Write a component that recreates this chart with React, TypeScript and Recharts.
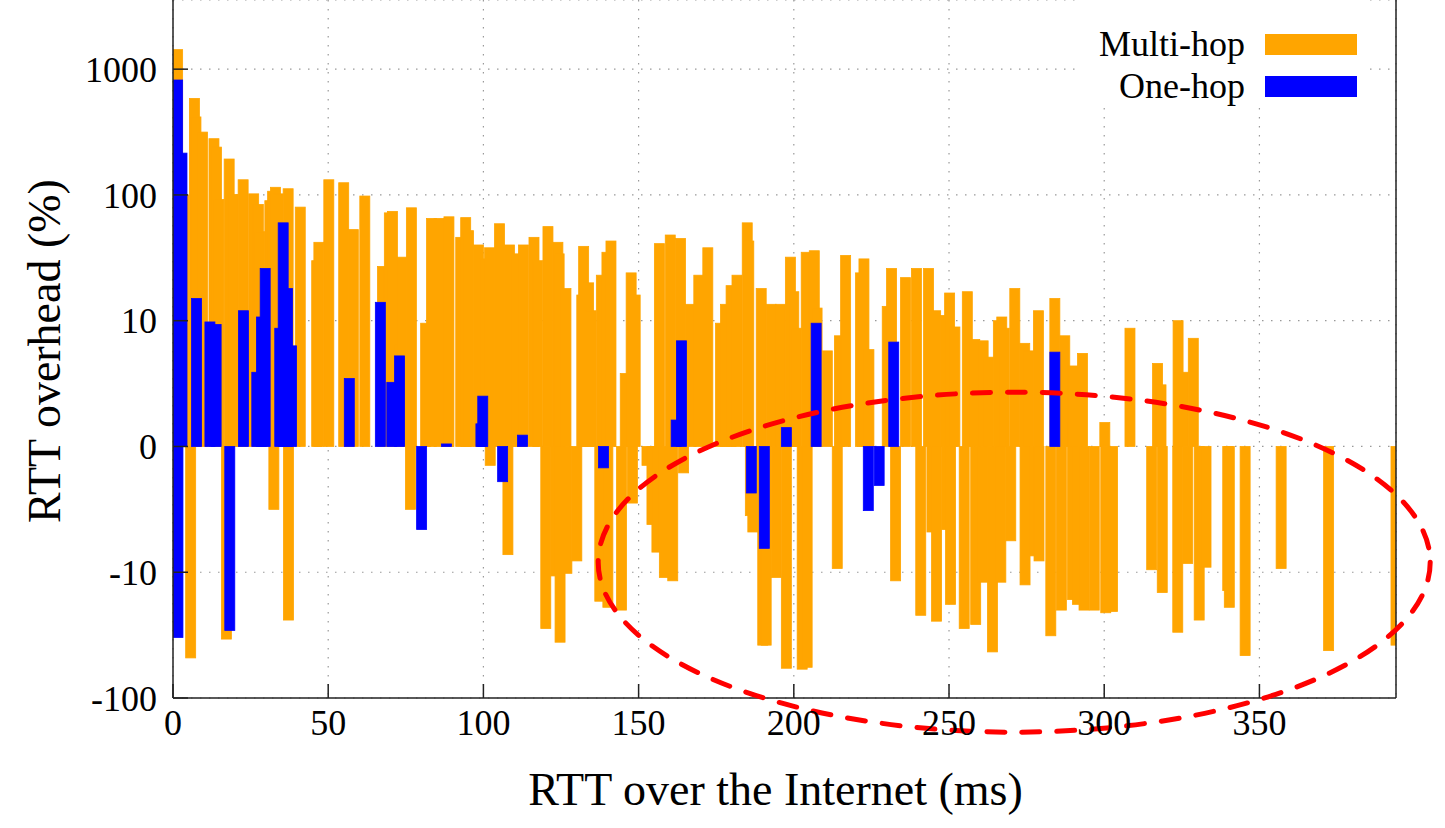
import React from 'react';
import { BarChart, Bar, XAxis, YAxis, CartesianGrid, Legend, ReferenceDot, Label } from 'recharts';

const FONT = '"Liberation Serif", "Times New Roman", serif';
const ORANGE = '#ffa500';
const BLUE = '#0000ff';
const BAR_W = 10;

// multi-hop: RTT over the Internet (ms) and RTT overhead (%)
const multiHopRtt = [
  1.5, 3.5, 5.7, 6.9, 7.4, 9.5, 13.2, 14.0, 14.8, 17.2, 18.1, 19.4, 22.6, 26.0, 27.5, 28.0, 31.2, 32.1, 32.5, 33.0,
  33.9, 37.1, 37.2, 41.0, 46.3, 47.0, 50.2, 55.0, 58.1, 61.8, 67.5, 69.7, 70.7, 72.8, 73.7, 76.5, 76.8, 81.4, 83.3, 85.7,
  88.9, 92.7, 94.3, 95.2, 98.4, 100.4, 102.0, 102.2, 105.2, 107.9, 108.4, 110.5, 112.9, 116.3, 117.5, 120.1, 120.8, 123.3, 124.0, 124.4,
  124.7, 126.6, 126.9, 130.1, 131.7, 132.3, 133.9, 134.7, 137.5, 138.0, 139.8, 140.1, 141.1, 144.5, 145.7, 147.6, 148.0, 148.9, 152.7, 154.3,
  155.9, 156.7, 158.3, 160.2, 161.0, 163.5, 164.5, 166.7, 169.4, 172.3, 176.4, 178.0, 179.8, 181.7, 185.0, 185.5, 186.0, 186.8, 189.5, 190.0,
  191.1, 192.7, 194.3, 195.7, 197.6, 198.9, 200.0, 200.8, 202.7, 204.0, 204.3, 206.6, 207.5, 210.8, 214.0, 214.7, 216.7, 221.5, 222.6, 224.2,
  230.1, 231.5, 232.8, 236.0, 239.5, 240.9, 243.4, 244.5, 245.2, 245.7, 246.0, 248.9, 249.3, 250.2, 250.5, 251.9, 254.9, 255.9, 258.3, 258.6,
  260.8, 261.0, 262.7, 264.0, 265.9, 266.7, 267.0, 267.8, 269.9, 271.2, 274.4, 274.5, 275.6, 277.7, 278.8, 279.0, 282.8, 284.1, 286.2, 287.3,
  289.5, 289.8, 290.0, 291.4, 293.0, 293.5, 296.8, 300.2, 300.5, 302.7, 308.3, 315.3, 317.2, 318.3, 318.7, 323.7, 323.8, 325.5, 326.9, 328.7,
  330.6, 332.8, 339.8, 340.3, 345.4, 357.0, 372.3, 394.0,
];
const multiHopOverhead = [
  1430, 100, -48, 585, 417, 316, 280, 240, 92, -34, 193, 101, 132, 102, 84, 51, 90, 107, -5, 115,
  102, 112, -24, 80, 30, 42, 132, 125, 53, 98, 27, 72, 74, 8.1, 32, -5, 79, 9.8, 65, 65,
  67, 46, 66, 52, 40, 31, 38, -1.5, 59, -8.6, 40, 34, 40, 46, 30, -28, 56, -10.7, 42, 34,
  -36, 18, -10.2, -9.1, 16, 39, 20, 12, -17, 23, 35, -19, 43, -20, 5.8, 24, -4.5, 16, -1.5, -6.2,
  -8.4, 41, -11, 48, -11.7, 45, -2.1, 13.5, 23, 38, 9.8, 13.5, 19, 23, 60, 43, -5.5, -6.8, 18, -38,
  -38, 13.5, -11, 13.5, -58, 32, 17, 9.4, -59, 35, -57, 36, 12.6, 7.6, -9.7, 8.8, 33, 24, 31, 7.7,
  13, 26, -11.7, 22, 26, -22, 26, -6.8, 4.8, 12, -24.5, 11, -6.6, 16.6, -18, 9.5, -28, 17, 8.5, -26,
  -12, 8.4, 7.1, -43, 10, -12, 10.7, 9.4, -7.5, 18, 8.2, -12.6, 7.6, -8.7, 12, -9.1, -32, 15, -20, 8.8,
  1.9, -16.5, 6.4, -18, 7.4, -20, -20, 1.9, -21, -20.5, 9.4, -9.8, 6.6, 4.9, -14.5, -30, 10, 5.9, -9.3, 8.6,
  -24, -9.6, -14, -19, -46, -9.7, -42, -38,
];

// one-hop
const oneHopRtt = [
  1.5, 1.6, 2.9, 7.6, 11.9, 13.9, 18.3, 22.7, 27.0, 28.5, 29.7, 34.4, 35.5, 36.9, 38.2, 56.8, 66.8, 70.5, 73.0, 80.1,
  88.1, 99.2, 99.8, 106.2, 112.6, 138.7, 162.1, 163.8, 186.3, 190.5, 197.6, 207.2, 224.0, 227.5, 232.2, 284.1,
];
const oneHopOverhead = [
  820, -33, 215, 15, 9.9, 9.7, -29, 12, 5.9, 10.7, 26, 9.4, 60, 18, 8, 5.4, 14, 5.1, 7.2, -6.6,
  0.2, 1.8, 4.0, -2.8, 0.9, -1.7, 2.1, 8.4, -3.7, -8.1, 1.5, 9.8, -5.1, -3.1, 8.3, 7.5,
];

const rttTicks = [0, 50, 100, 150, 200, 250, 300, 350];
const rttDomain = [0, 394];
const overheadTicks = [-100, -10, 0, 10, 100, 1000];
const overheadRange = [-100, 3548];
const highlight = { rtt: 271, overhead: -9.2 };

// linear between -10 and 10, log10 outside
const toAxis = (v: number) => (Math.abs(v) <= 10 ? v / 10 : Math.sign(v) * Math.log10(Math.abs(v)));
const yTicks = overheadTicks.map(toAxis);
const yDomain = overheadRange.map(toAxis);

const rows = [
  ...multiHopRtt.map((rtt, i) => ({ rtt, multi: toAxis(multiHopOverhead[i]) })),
  ...oneHopRtt.map((rtt, i) => ({ rtt, one: toAxis(oneHopOverhead[i]) })),
].sort((a, b) => a.rtt - b.rtt);

function BarShape(props: any) {
  const { x, y, width, height, fill } = props;
  if (!height || !Number.isFinite(height)) return <g />;
  const top = height < 0 ? y + height : y;
  return (
    <rect x={x + width / 2 - BAR_W / 2} y={top} width={BAR_W} height={Math.abs(height)}
      fill={fill} stroke={fill} strokeWidth={0.8} />
  );
}

function HighlightEllipse(props: any) {
  return (
    <ellipse
      cx={props.cx}
      cy={props.cy}
      rx={416}
      ry={170}
      fill="none"
      stroke="#ff0000"
      strokeWidth={5}
      strokeDasharray="18 17"
      strokeLinecap="round"
    />
  );
}

function XTitle({ viewBox }: any) {
  return (
    <text x={viewBox.x + viewBox.width / 2 - 9} y={viewBox.y + 107} textAnchor="middle"
      style={{ fontFamily: FONT, fontSize: 46, fill: '#000' }}>
      RTT over the Internet (ms)
    </text>
  );
}

function YTitle({ viewBox }: any) {
  const cx = viewBox.x + 44;
  const cy = viewBox.y + viewBox.height / 2 + 2;
  return (
    <text transform={`translate(${cx},${cy}) rotate(-90)`} textAnchor="middle" dominantBaseline="central"
      style={{ fontFamily: FONT, fontSize: 46, fill: '#000' }}>
      RTT overhead (%)
    </text>
  );
}

function LegendBox({ payload }: any) {
  const items = [...(payload || [])].sort((a: any, b: any) => (a.value === 'Multi-hop' ? -1 : b.value === 'Multi-hop' ? 1 : 0));
  return (
    <div style={{ background: '#fff', width: 295, height: 108, boxSizing: 'border-box', paddingTop: 23 }}>
      {items.map((e: any) => (
        <div key={e.value} style={{ display: 'flex', alignItems: 'center', height: 42 }}>
          <span style={{ width: 170, textAlign: 'right', fontFamily: FONT, fontSize: 36, lineHeight: '42px', color: '#000' }}>
            {e.value}
          </span>
          <span style={{ width: 92, height: 21, marginLeft: 20, background: e.color }} />
        </div>
      ))}
    </div>
  );
}

const axisStroke = { stroke: '#222', strokeWidth: 1.5 };
const tickFont = { fontFamily: FONT, fontSize: 36, fill: '#000' };

export default function App() {
  return (
    <div style={{ position: 'absolute', left: 0, top: 0, width: 1445, height: 828, background: '#fff' }}>
      <BarChart width={1445} height={828} data={rows} margin={{ top: 0, right: 49, bottom: 0, left: 0 }}>
        <CartesianGrid xAxisId="m" yAxisId="l" stroke="#999" strokeWidth={1.2} strokeDasharray="1.5 7.5" />
        <XAxis
          xAxisId="m"
          dataKey="rtt"
          type="number"
          domain={rttDomain}
          allowDataOverflow
          ticks={rttTicks}
          interval={0}
          height={130}
          axisLine={axisStroke}
          tickLine={axisStroke}
          tickSize={-14}
          tickMargin={25}
          tick={tickFont}
        >
          <Label content={XTitle} />
        </XAxis>
        <XAxis xAxisId="o" dataKey="rtt" type="number" domain={rttDomain} allowDataOverflow hide />
        <YAxis
          yAxisId="l"
          type="number"
          domain={yDomain}
          allowDataOverflow
          ticks={yTicks}
          interval={0}
          width={173}
          axisLine={axisStroke}
          tickLine={axisStroke}
          tickSize={-15}
          tickMargin={31}
          tick={tickFont}
          tickFormatter={(t: number) => String(overheadTicks[yTicks.indexOf(t)])}
        >
          <Label content={YTitle} />
        </YAxis>
        <YAxis
          yAxisId="r"
          orientation="right"
          type="number"
          mirror
          width={1}
          domain={yDomain}
          allowDataOverflow
          ticks={yTicks}
          interval={0}
          tick={false}
          tickSize={15}
          axisLine={axisStroke}
          tickLine={axisStroke}
        />
        <Bar xAxisId="m" yAxisId="l" dataKey="multi" name="Multi-hop" fill={ORANGE} barSize={BAR_W}
          shape={BarShape} isAnimationActive={false} />
        <Bar xAxisId="o" yAxisId="l" dataKey="one" name="One-hop" fill={BLUE} barSize={BAR_W}
          shape={BarShape} isAnimationActive={false} />
        <ReferenceDot xAxisId="m" yAxisId="l" x={highlight.rtt} y={toAxis(highlight.overhead)}
          ifOverflow="visible" shape={HighlightEllipse} />
        <Legend layout="horizontal" verticalAlign="middle" align="center"
          wrapperStyle={{ top: 0, left: 1075, width: 295 }} content={LegendBox} />
      </BarChart>
    </div>
  );
}
